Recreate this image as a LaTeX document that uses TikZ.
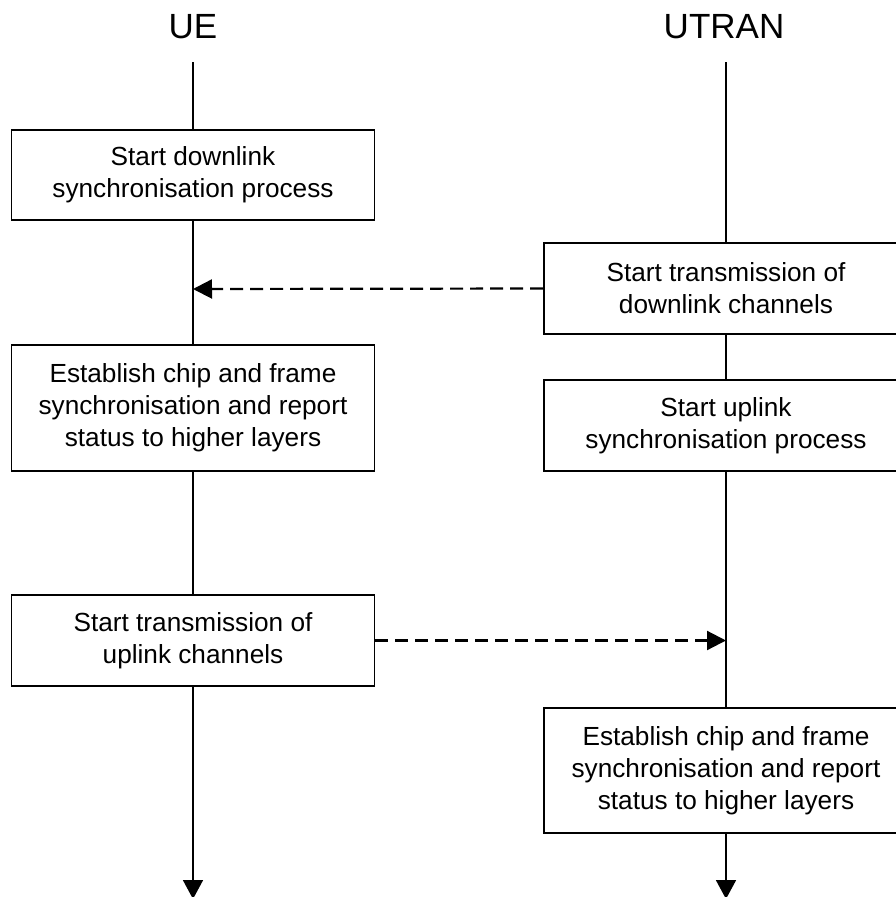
\documentclass[tikz,border=0pt]{standalone}
\usepackage{fontspec}
\setmainfont{Liberation Sans}
\usetikzlibrary{arrows.meta}
\begin{document}
\begin{tikzpicture}[x=1pt,y=-1pt,
  line width=1.7pt,
  box/.style={draw, fill=white, inner sep=0pt, align=center,
    font=\fontsize{26.2}{32}\selectfont},
  msg/.style={line width=2.2pt, dash pattern=on 13pt off 7pt, -{Triangle[length=19pt,width=19pt]}},
  endarrow/.style={-{Triangle[length=19pt,width=20pt]}},
  actor/.style={font=\fontsize{35}{42}\selectfont, anchor=base, inner sep=0pt}]
\useasboundingbox (0,0) rectangle (896,897);

% actors
\node[actor] (ue) at (193,38) {UE};
\node[actor] (utran) at (724,38) {UTRAN};

% lifeline end points
\coordinate (ueTop) at (193,62);
\coordinate (utTop) at (726,62);
\coordinate (ueBot) at (193,899);
\coordinate (utBot) at (726,899);
\coordinate (ueHit) at (193,289);
\coordinate (utHit) at (726,640.5);

% boxes
\node[box, minimum width=363pt, minimum height=90pt] (b1) at (193,175)
  {Start downlink\\synchronisation process};
\node[box, minimum width=363pt, minimum height=126pt] (b2) at (193,408)
  {Establish chip and frame\\synchronisation and report\\status to higher layers};
\node[box, minimum width=363pt, minimum height=91pt] (b3) at (193,640.5)
  {Start transmission of\\uplink channels};

\node[box, minimum width=364pt, minimum height=91pt] (r1) at (726,288.5)
  {Start transmission of\\downlink channels};
\node[box, minimum width=364pt, minimum height=91pt] (r2) at (726,425.5)
  {Start uplink\\synchronisation process};
\node[box, minimum width=364pt, minimum height=125pt] (r3) at (726,770.5)
  {Establish chip and frame\\synchronisation and report\\status to higher layers};

% UE lifeline
\draw (ueTop) -- (b1.north);
\draw (b1.south) -- (b2.north);
\draw (b2.south) -- (b3.north);
\draw[endarrow] (b3.south) -- (ueBot);

% UTRAN lifeline
\draw (utTop) -- (r1.north);
\draw (r1.south) -- (r2.north);
\draw (r2.south) -- (r3.north);
\draw[endarrow] (r3.south) -- (utBot);

% messages
\draw[msg] (r1.west) -- (ueHit);
\draw[msg] (b3.east) -- (utHit);
\end{tikzpicture}
\end{document}
